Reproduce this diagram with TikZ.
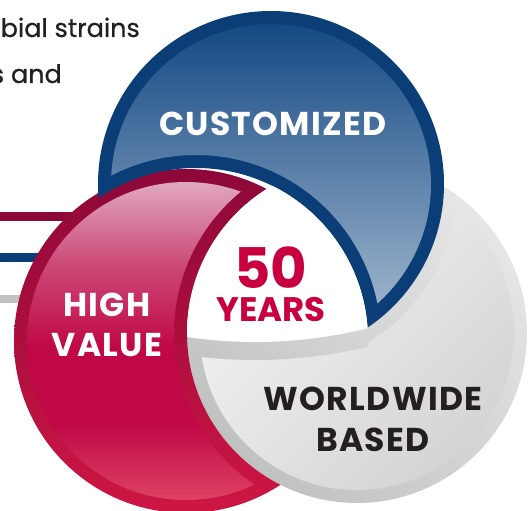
\documentclass[tikz,border=0pt]{standalone}
\usepackage{fontspec}
\setmainfont{Poppins}
\definecolor{pinklight}{RGB}{224,166,192}
\definecolor{pinkup}{RGB}{204,72,118}
\definecolor{pinkmid}{RGB}{192,8,70}
\definecolor{pinkbot}{RGB}{226,76,104}
\pgfdeclareverticalshading{pinkshade}{100bp}{color(0bp)=(pinkbot); color(25bp)=(pinkbot); color(38bp)=(pinkmid); color(49bp)=(pinkmid); color(61bp)=(pinkup); color(73bp)=(pinklight); color(100bp)=(pinklight)}
\begin{document}
\begin{tikzpicture}[x=1pt,y=-1pt]
\definecolor{bluering}{RGB}{11,62,119}
\definecolor{bluedark}{RGB}{14,68,128}
\definecolor{bluemid}{RGB}{36,88,143}
\definecolor{bluelight}{RGB}{180,198,216}
\definecolor{pinkringtop}{RGB}{140,8,56}
\definecolor{pinkringbot}{RGB}{206,22,68}
\definecolor{grayringdark}{RGB}{192,194,194}
\definecolor{grayringlight}{RGB}{230,230,230}
\definecolor{graylight}{RGB}{245,245,245}
\definecolor{graydark}{RGB}{212,212,212}
\definecolor{crimson}{RGB}{200,0,63}
\definecolor{darktext}{RGB}{35,31,32}
\tikzset{
  captxt/.style={font=\bfseries\fontsize{33}{40}\selectfont\addfontfeature{LetterSpace=4}, text=white, inner sep=0pt},
  bartxt/.style={font=\fontsize{25.5}{28}\selectfont\addfontfeature{FakeBold=0.6}, text=darktext, inner sep=0pt},
  grayringshade/.style={top color=grayringlight, bottom color=grayringdark, shading angle=-45},
}
\useasboundingbox (0,0) rectangle (528,511);
\fill[white] (0,0) rectangle (528,511);
% left bars
\fill[pinkringtop] (0,212) rectangle (90,221);
\fill[bluering] (0,253) rectangle (90,262);
\fill[grayringdark] (0,295) rectangle (90,303);
% circle centres
\coordinate (B) at (271,184);
\coordinate (P) at (186,341);
\coordinate (G) at (357,333);
\coordinate (Cb) at (196,340);
\coordinate (Cg) at (255,-120);
% ---------- gray region ----------
\shade[grayringshade] (G) circle[radius=170pt];
\shade[top color=graylight, bottom color=graydark, shading angle=45] (G) circle[radius=157pt];
% gray band along the blue circle
\begin{scope}[even odd rule]
  \clip (G) circle[radius=170pt];
  \clip (-20,-800) rectangle (560,560) (Cb) circle[radius=172pt];
  \clip (B) circle[radius=186pt];
  \shade[grayringshade] (G) circle[radius=170pt];
\end{scope}
% gray band along the white centre
\begin{scope}
  \clip (G) circle[radius=170pt];
  \clip (Cb) circle[radius=172pt];
  \clip (Cg) circle[radius=480pt];
  \shade[grayringshade] (G) circle[radius=170pt];
\end{scope}
% ---------- pink region = P minus G ----------
\begin{scope}[even odd rule]
  \clip (-20,-20) rectangle (560,560) (G) circle[radius=170pt];
  \shade[top color=pinkringtop, bottom color=pinkringbot] (P) circle[radius=172pt];
  \clip (-20,-20) rectangle (560,560) (G) circle[radius=183pt];
  \clip (P) circle[radius=159pt];
  \shade[shading=pinkshade] (P) circle[radius=172pt];
\end{scope}
% ---------- blue region = B minus Cb ----------
\begin{scope}[even odd rule]
  \clip (-20,-20) rectangle (560,560) (Cb) circle[radius=172pt];
  \fill[bluering] (B) circle[radius=173pt];
  \clip (-20,-20) rectangle (560,560) (Cb) circle[radius=185pt];
  \clip (B) circle[radius=160pt];
  \shade[top color=bluedark, middle color=bluemid, bottom color=bluelight] (B) circle[radius=173pt];
\end{scope}
% ---------- white centre ----------
\begin{scope}
  \clip (G) circle[radius=170pt];
  \clip (Cb) circle[radius=172pt];
  \fill[white] (Cg) circle[radius=462pt];
\end{scope}
% texts
\node[bartxt, anchor=base east] (t1) at (140,37) {bial strains};
\node[bartxt, anchor=base east] (t2) at (62,83) {s and};
\node[captxt] (cust) at (273,123.5) {CUSTOMIZED};
\node[captxt, align=center] (high) at (107,325) {HIGH\\VALUE};
\node[inner sep=0pt, text=crimson, text height=39pt, text depth=0pt, anchor=base, font=\bfseries\fontsize{56}{56}\selectfont] (fifty) at (271,288) {50};
\node[inner sep=0pt, text=crimson, text height=24pt, text depth=0pt, anchor=base, font=\bfseries\fontsize{34}{34}\selectfont] (years) at (271,321.5) {YEARS};
\node[captxt, text=darktext, align=center, font=\bfseries\fontsize{33}{41}\selectfont\addfontfeature{LetterSpace=4}] (world) at (373,419.5) {WORLDWIDE\\BASED};
\end{tikzpicture}
\end{document}
